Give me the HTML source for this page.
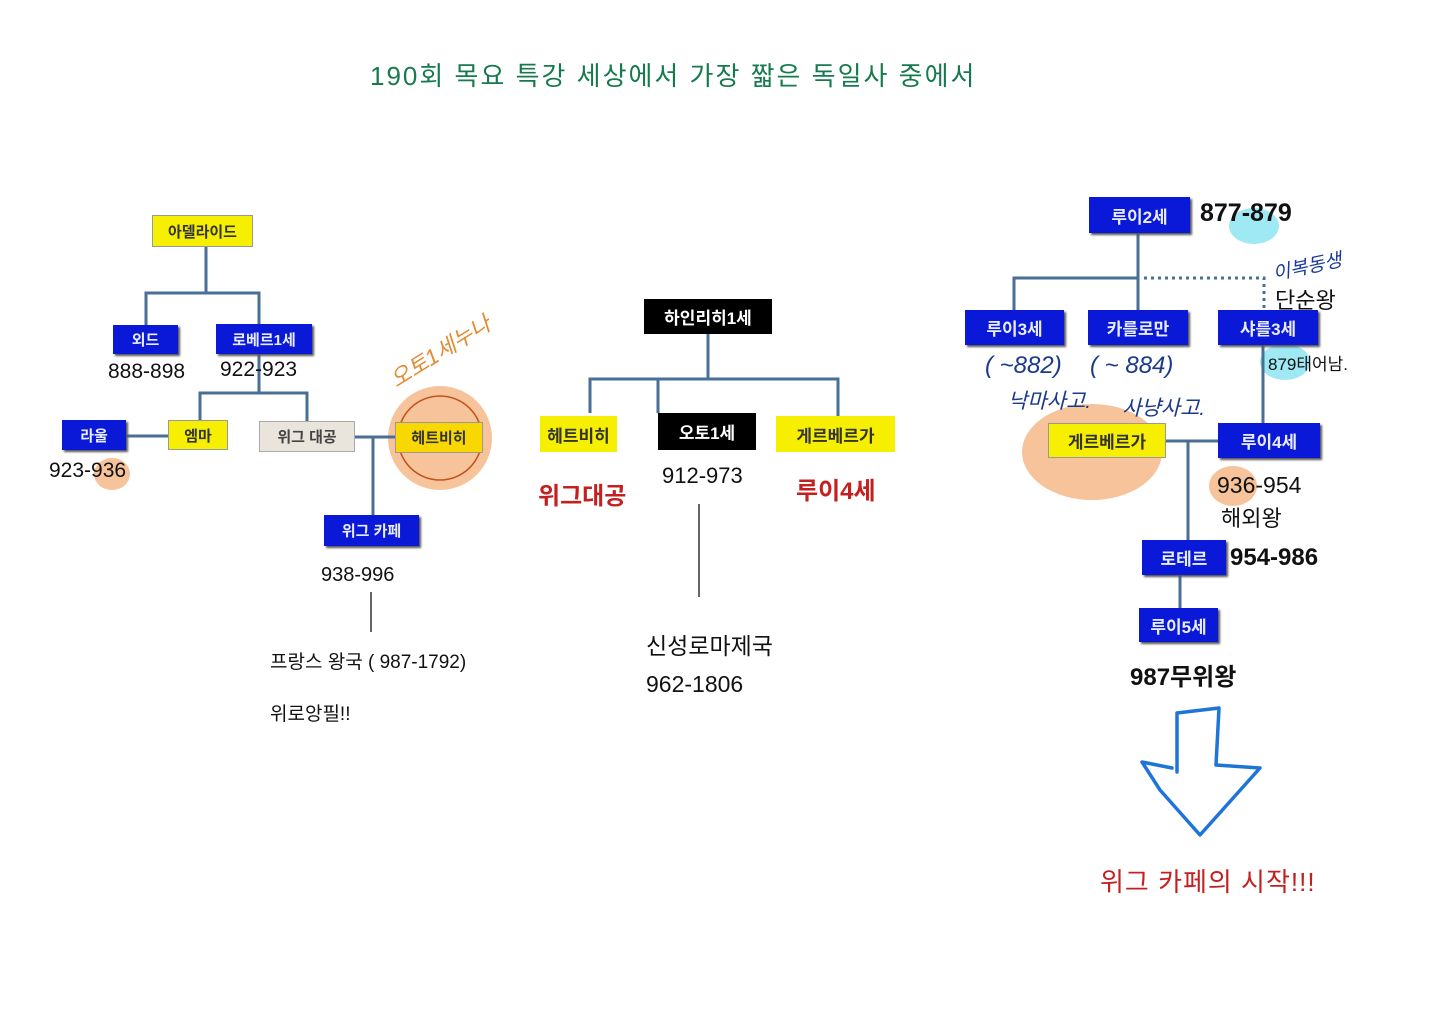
<!DOCTYPE html>
<html><head><meta charset="utf-8"><style>
html,body{margin:0;padding:0;background:#fff;}
body{width:1440px;height:1018px;position:relative;overflow:hidden;font-family:"Liberation Sans","Noto Sans CJK KR",sans-serif;}
.b{position:absolute;display:flex;align-items:center;justify-content:center;font-weight:bold;font-size:15px;box-sizing:border-box;}
.bl{background:#0a18d8;color:#e8ecff;box-shadow:2px 2px 2px #555;}
.y{background:#f6f000;color:#333;border:1px solid #999;}
.g{background:#e9e5dc;color:#444;border:1px solid #aaa;}
.k{background:#000;color:#fff;}
.t{position:absolute;white-space:nowrap;color:#111;}
svg{position:absolute;left:0;top:0;}
</style></head><body>
<svg width="1440" height="1018">
<g fill="#f5b98a" opacity="0.85">
<circle cx="440" cy="438" r="52"/>
<ellipse cx="112" cy="474" rx="18" ry="16"/>
<ellipse cx="1092" cy="452" rx="70" ry="48"/>
<ellipse cx="1233" cy="486" rx="24" ry="20"/>
</g>
<g fill="#9ee9f3">
<ellipse cx="1254" cy="226" rx="25" ry="18"/>
<ellipse cx="1285" cy="362" rx="25" ry="18"/>
</g>
<circle cx="440" cy="438" r="42" fill="none" stroke="#c0521a" stroke-width="1.5"/>
<g stroke="#4a6f94" stroke-width="3" fill="none">
<path d="M206 247V293M146 326V293H259V326M259 354V393M200 420V393H307V421M126 436H168M355 437H396M373 437V515"/>
<path d="M708 334V379M590 413V379H838V416M658 379V413"/>
<path d="M1138 233V312M1014 312V278H1138M1166 441H1218M1263 345V423M1188 441V540M1180 575V608"/>
</g>
<path d="M1144 278H1264V310" stroke="#4a6f94" stroke-width="3" fill="none" stroke-dasharray="3,4"/>
<path d="M371 592V632M699 504V597" stroke="#333" stroke-width="1.5"/>
<path d="M1177 772V713L1219 708L1216 765L1260 768L1200 835L1160 790L1142 762L1172 768" stroke="#1e74d8" stroke-width="3.5" fill="none" stroke-linejoin="round" stroke-linecap="round"/>
</svg>

<div class="t" style="left:370px;top:56px;font-size:26px;color:#177a4e;letter-spacing:2px;">190회 목요 특강 세상에서 가장 짧은 독일사 중에서</div>

<div class="b y" style="left:152px;top:215px;width:101px;height:32px;">아델라이드</div>
<div class="b bl" style="left:113px;top:325px;width:65px;height:29px;">외드</div>
<div class="b bl" style="left:216px;top:324px;width:96px;height:30px;">로베르1세</div>
<div class="t" style="left:108px;top:360px;font-size:21px;">888-898</div>
<div class="t" style="left:220px;top:358px;font-size:21px;">922-923</div>
<div class="b bl" style="left:62px;top:420px;width:64px;height:30px;">라울</div>
<div class="b y" style="left:168px;top:420px;width:60px;height:30px;">엠마</div>
<div class="b g" style="left:259px;top:421px;width:96px;height:31px;">위그 대공</div>
<div class="b y" style="left:395px;top:422px;width:88px;height:31px;background:#f8d800;">헤트비히</div>
<div class="t" style="left:49px;top:459px;font-size:21px;">923-936</div>
<div class="t" style="left:400px;top:362px;font-size:22px;color:#e38a30;transform:rotate(-32deg);transform-origin:left bottom;font-style:italic;">오토1세누나</div>
<div class="b bl" style="left:324px;top:515px;width:95px;height:31px;">위그 카페</div>
<div class="t" style="left:321px;top:564px;font-size:20px;">938-996</div>
<div class="t" style="left:270px;top:647px;font-size:19px;">프랑스 왕국 ( 987-1792)</div>
<div class="t" style="left:270px;top:699px;font-size:19px;">위로앙필!!</div>

<div class="b k" style="left:644px;top:299px;width:128px;height:35px;font-size:17px;">하인리히1세</div>
<div class="b y" style="left:540px;top:416px;width:77px;height:36px;font-size:17px;border:none;">헤트비히</div>
<div class="b k" style="left:658px;top:413px;width:98px;height:37px;font-size:17px;">오토1세</div>
<div class="b y" style="left:776px;top:416px;width:119px;height:36px;font-size:17px;border:none;">게르베르가</div>
<div class="t" style="left:538px;top:476px;font-size:24px;font-weight:bold;color:#c42020;">위그대공</div>
<div class="t" style="left:662px;top:463px;font-size:22px;">912-973</div>
<div class="t" style="left:796px;top:471px;font-size:24px;font-weight:bold;color:#c42020;">루이4세</div>
<div class="t" style="left:646px;top:627px;font-size:23px;">신성로마제국</div>
<div class="t" style="left:646px;top:671px;font-size:23px;">962-1806</div>

<div class="b bl" style="left:1089px;top:197px;width:101px;height:36px;font-size:17px;">루이2세</div>
<div class="t" style="left:1200px;top:199px;font-size:25px;font-weight:bold;">877-879</div>
<div class="t" style="left:1272px;top:252px;font-size:19px;color:#1a3a9a;font-style:italic;transform:rotate(-12deg);">이복동생</div>
<div class="t" style="left:1275px;top:283px;font-size:22px;">단순왕</div>
<div class="b bl" style="left:965px;top:310px;width:99px;height:35px;font-size:17px;">루이3세</div>
<div class="b bl" style="left:1088px;top:310px;width:100px;height:35px;font-size:17px;">카를로만</div>
<div class="b bl" style="left:1218px;top:310px;width:100px;height:35px;font-size:17px;">샤를3세</div>
<div class="t" style="left:1268px;top:350px;font-size:17px;">879태어남.</div>
<div class="t" style="left:985px;top:352px;font-size:24px;color:#1a3a8a;font-style:italic;">( ~882)</div>
<div class="t" style="left:1008px;top:385px;font-size:21px;color:#1a3a8a;font-style:italic;">낙마사고.</div>
<div class="t" style="left:1090px;top:352px;font-size:24px;color:#1a3a8a;font-style:italic;">( ~ 884)</div>
<div class="t" style="left:1122px;top:392px;font-size:21px;color:#1a3a8a;font-style:italic;">사냥사고.</div>
<div class="b y" style="left:1048px;top:423px;width:118px;height:35px;font-size:17px;">게르베르가</div>
<div class="b bl" style="left:1218px;top:423px;width:102px;height:35px;font-size:17px;">루이4세</div>
<div class="t" style="left:1217px;top:472px;font-size:23px;">936-954</div>
<div class="t" style="left:1221px;top:501px;font-size:22px;">해외왕</div>
<div class="b bl" style="left:1142px;top:540px;width:84px;height:35px;font-size:17px;">로테르</div>
<div class="t" style="left:1230px;top:544px;font-size:24px;font-weight:bold;">954-986</div>
<div class="b bl" style="left:1139px;top:608px;width:79px;height:34px;font-size:17px;">루이5세</div>
<div class="t" style="left:1130px;top:657px;font-size:24px;font-weight:bold;">987무위왕</div>
<div class="t" style="left:1100px;top:862px;font-size:26px;color:#c42020;letter-spacing:1px;">위그 카페의 시작!!!</div>
</body></html>
